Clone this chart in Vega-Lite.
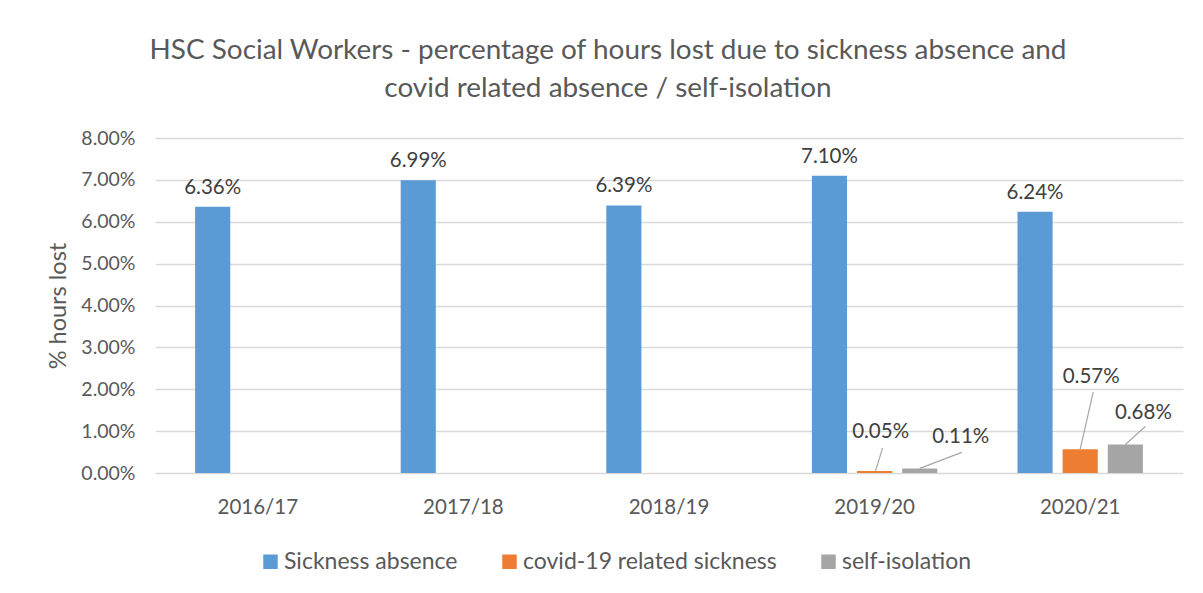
{
  "$schema": "https://vega.github.io/schema/vega-lite/v6.json",
  "autosize": {"type": "none"},
  "width": 1028,
  "height": 335,
  "padding": {"left": 155, "top": 138, "right": 20, "bottom": 120},
  "background": "white",
  "config": {
    "font": "Lato",
    "view": {"stroke": null},
    "axis": {"labelFont": "Lato", "titleFont": "Lato", "labelColor": "#595959", "titleColor": "#595959"}
  },
  "title": {
    "text": ["HSC Social Workers - percentage of hours lost due to sickness absence and", "covid related absence / self-isolation"],
    "font": "Lato",
    "fontSize": 27.9,
    "fontWeight": "normal",
    "color": "#595959",
    "anchor": "middle",
    "dx": -61,
    "offset": 25,
    "lineHeight": 38
  },
  "data": {
    "values": [
      {"year": "2016/17", "series": "Sickness absence", "value": 0.0636},
      {"year": "2017/18", "series": "Sickness absence", "value": 0.0699},
      {"year": "2018/19", "series": "Sickness absence", "value": 0.0639},
      {"year": "2019/20", "series": "Sickness absence", "value": 0.071},
      {"year": "2019/20", "series": "covid-19 related sickness", "value": 0.0005},
      {"year": "2019/20", "series": "self-isolation", "value": 0.0011},
      {"year": "2020/21", "series": "Sickness absence", "value": 0.0624},
      {"year": "2020/21", "series": "covid-19 related sickness", "value": 0.0057},
      {"year": "2020/21", "series": "self-isolation", "value": 0.0068}
    ]
  },
  "encoding": {
    "x": {
      "field": "year", "type": "nominal",
      "scale": {"paddingInner": 0.39, "paddingOuter": 0.195},
      "axis": {"title": null, "labelAngle": 0, "labelFontSize": 20.5, "labelPadding": 24, "ticks": false, "domain": false, "grid": false}
    },
    "xOffset": {
      "field": "series", "type": "nominal",
      "scale": {"domain": ["Sickness absence", "covid-19 related sickness", "self-isolation"], "paddingInner": 0.222, "paddingOuter": 0}
    },
    "y": {
      "field": "value", "type": "quantitative",
      "scale": {"domain": [0, 0.08], "nice": false},
      "axis": {"title": "% hours lost", "titleFontSize": 23.5, "titleFontWeight": "normal", "titlePadding": 10, "format": ".2%", "values": [0, 0.01, 0.02, 0.03, 0.04, 0.05, 0.06, 0.07, 0.08], "labelOverlap": false, "labelFontSize": 19.5, "labelPadding": 20, "ticks": false, "domain": false, "gridColor": "#d9d9d9", "gridWidth": 1.3}
    }
  },
  "layer": [
    {
      "mark": {"type": "bar"},
      "encoding": {
        "color": {
          "field": "series", "type": "nominal",
          "scale": {"domain": ["Sickness absence", "covid-19 related sickness", "self-isolation"], "range": ["#5b9bd5", "#ed7d31", "#a5a5a5"]},
          "legend": {"title": null, "orient": "none", "legendX": 104, "legendY": 412, "direction": "horizontal", "padding": 0, "symbolType": "square", "symbolSize": 210, "symbolStrokeWidth": 0, "labelFontSize": 23, "labelLimit": 500, "labelOffset": 2, "labelColor": "#595959", "labelFont": "Lato", "columnPadding": 40, "symbolOffset": 0}
        }
      }
    },
    {
      "transform": [{"filter": "datum.series == 'covid-19 related sickness' && datum.year == '2019/20'"}],
      "mark": {"type": "point", "shape": "M1,0L8,-23", "size": 4, "filled": false, "stroke": "#a6a6a6", "strokeWidth": 1.2, "opacity": 1}
    },
    {
      "transform": [{"filter": "datum.series == 'self-isolation' && datum.year == '2019/20'"}],
      "mark": {"type": "point", "shape": "M0,0L42,-16", "size": 4, "filled": false, "stroke": "#a6a6a6", "strokeWidth": 1.2, "opacity": 1}
    },
    {
      "transform": [{"filter": "datum.series == 'covid-19 related sickness' && datum.year == '2020/21'"}],
      "mark": {"type": "point", "shape": "M0,0L13,-57", "size": 4, "filled": false, "stroke": "#a6a6a6", "strokeWidth": 1.2, "opacity": 1}
    },
    {
      "transform": [{"filter": "datum.series == 'self-isolation' && datum.year == '2020/21'"}],
      "mark": {"type": "point", "shape": "M0,0L20,-18", "size": 4, "filled": false, "stroke": "#a6a6a6", "strokeWidth": 1.2, "opacity": 1}
    },
    {
      "transform": [{"filter": "datum.series == 'Sickness absence'"}],
      "mark": {"type": "text", "fontSize": 20.5, "color": "#404040", "dy": -13, "baseline": "alphabetic"},
      "encoding": {"text": {"field": "value", "format": ".2%"}}
    },
    {
      "transform": [{"filter": "datum.series == 'covid-19 related sickness' && datum.year == '2019/20'"}],
      "mark": {"type": "text", "fontSize": 20.5, "color": "#404040", "dx": 6, "dy": -33, "baseline": "alphabetic"},
      "encoding": {"text": {"field": "value", "format": ".2%"}}
    },
    {
      "transform": [{"filter": "datum.series == 'self-isolation' && datum.year == '2019/20'"}],
      "mark": {"type": "text", "fontSize": 20.5, "color": "#404040", "dx": 41, "dy": -25, "baseline": "alphabetic"},
      "encoding": {"text": {"field": "value", "format": ".2%"}}
    },
    {
      "transform": [{"filter": "datum.series == 'covid-19 related sickness' && datum.year == '2020/21'"}],
      "mark": {"type": "text", "fontSize": 20.5, "color": "#404040", "dx": 11, "dy": -66, "baseline": "alphabetic"},
      "encoding": {"text": {"field": "value", "format": ".2%"}}
    },
    {
      "transform": [{"filter": "datum.series == 'self-isolation' && datum.year == '2020/21'"}],
      "mark": {"type": "text", "fontSize": 20.5, "color": "#404040", "dx": 18, "dy": -26, "baseline": "alphabetic"},
      "encoding": {"text": {"field": "value", "format": ".2%"}}
    }
  ]
}
